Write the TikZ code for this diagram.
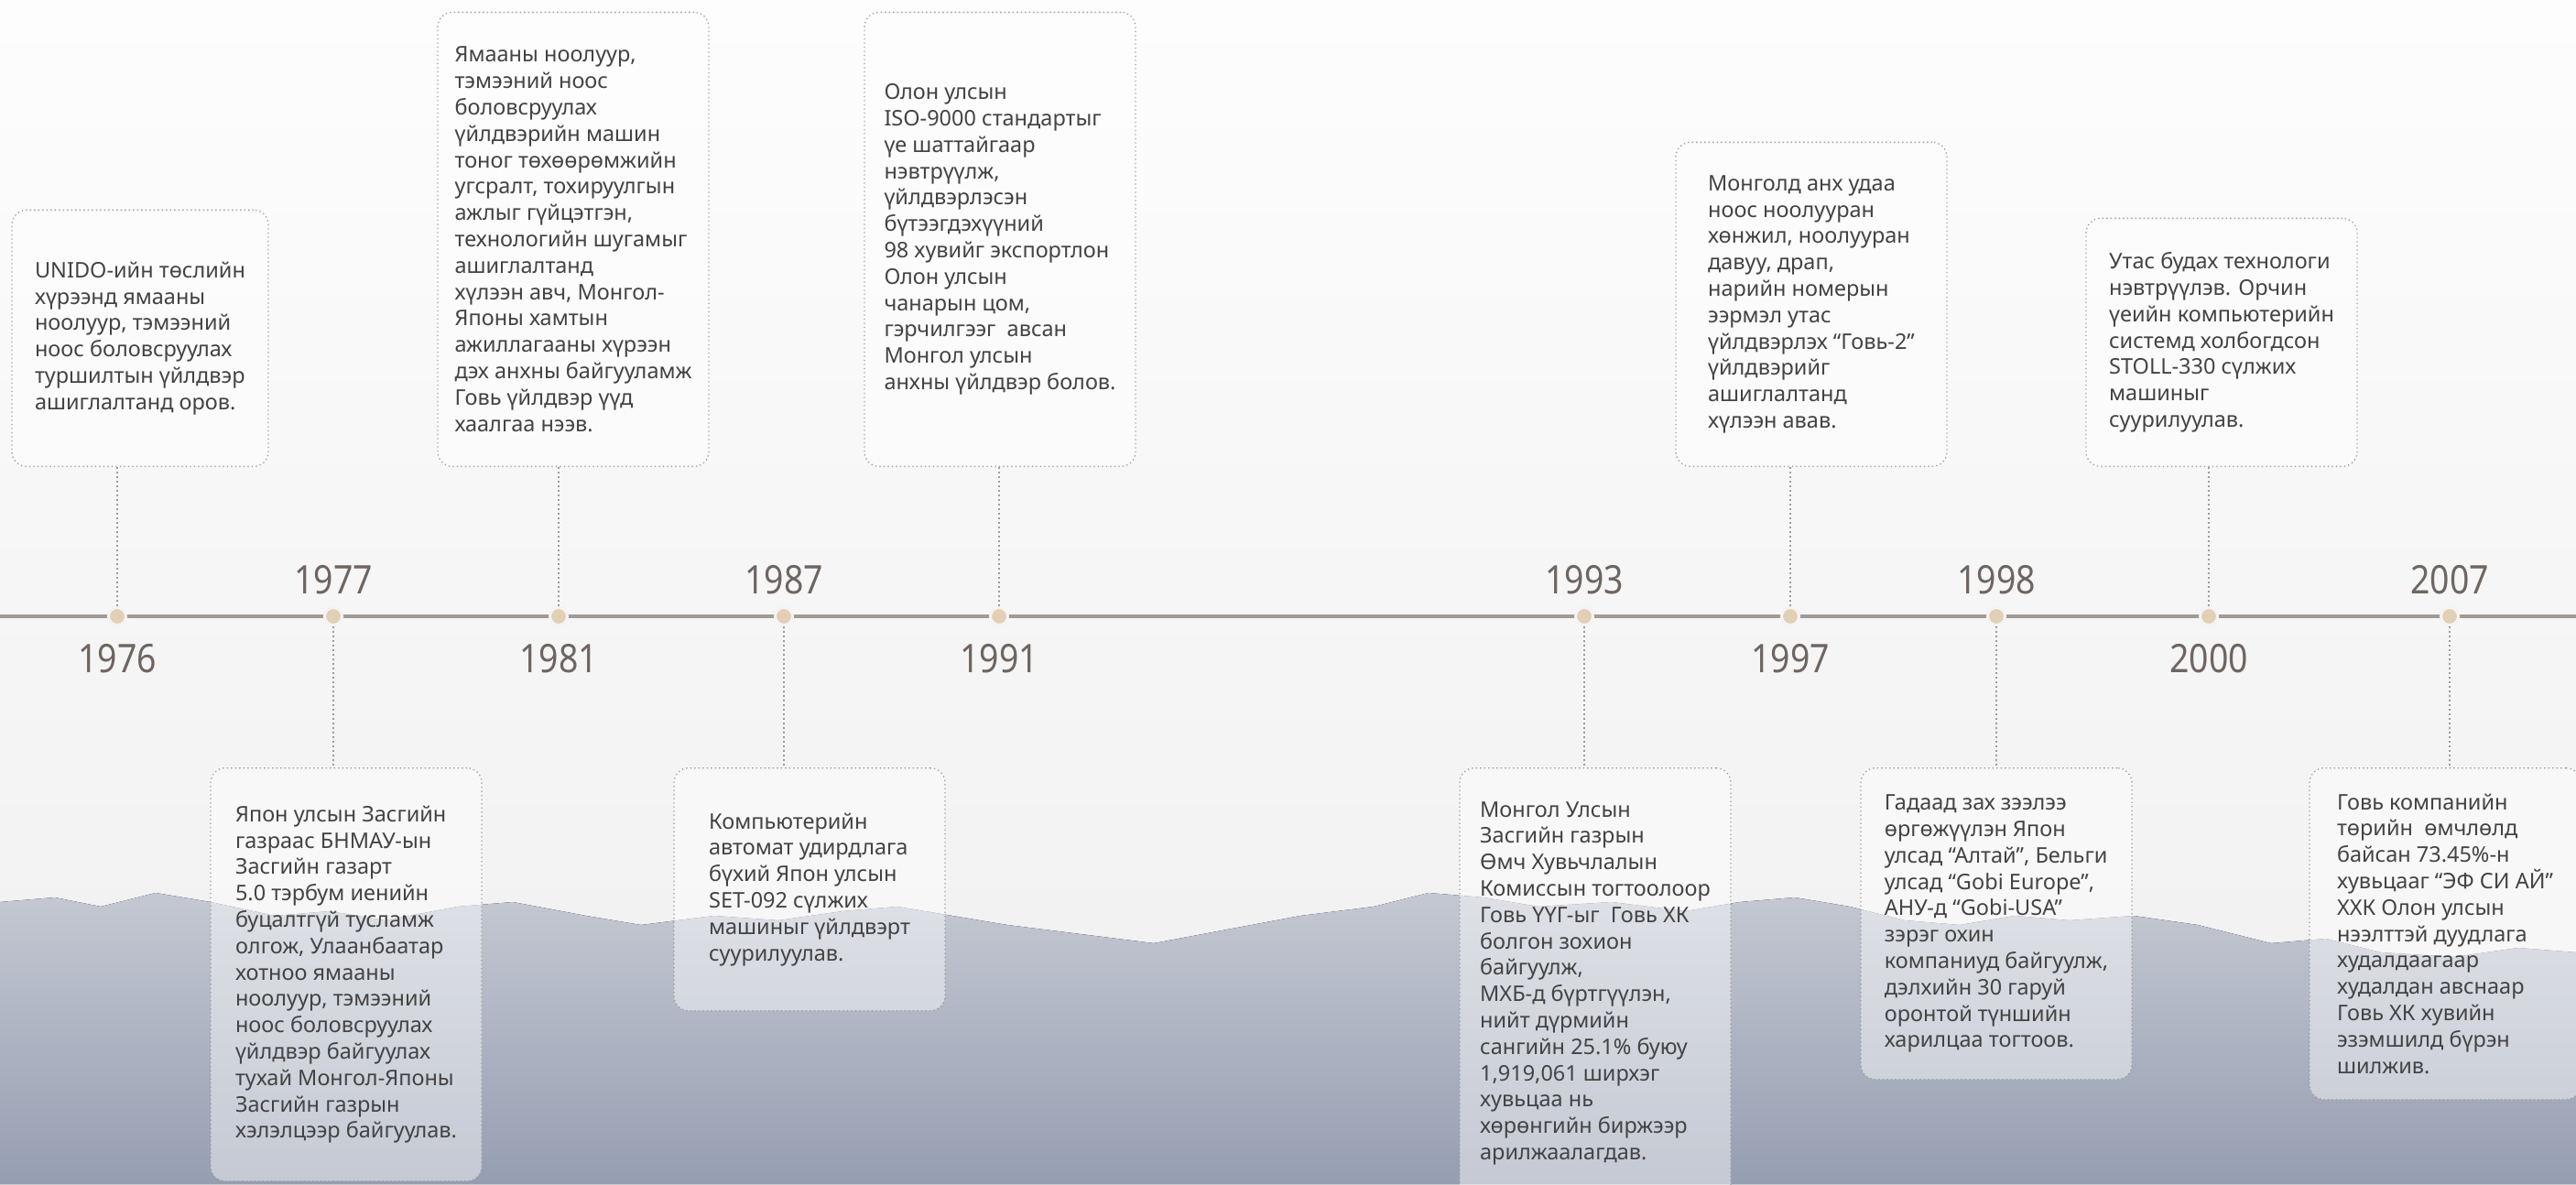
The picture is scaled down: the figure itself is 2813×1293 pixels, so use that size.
\documentclass[tikz,border=0pt]{standalone}
\usepackage{fontspec}
\setmainfont{Noto Sans}
\newfontfamily\yearfont[FakeStretch=0.87]{Noto Sans}
\usepackage{xcolor}
\definecolor{txtgray}{HTML}{434343}
\definecolor{yeargray}{HTML}{6F6560}
\definecolor{linegray}{HTML}{A19A95}
\definecolor{dotbeige}{HTML}{E2CFB6}
\definecolor{skytop}{HTML}{FDFDFD}
\definecolor{skymid}{HTML}{F4F4F4}
\definecolor{skybot}{HTML}{EFEFF0}
\definecolor{mtntop}{HTML}{C4C8D2}
\definecolor{mtnbot}{HTML}{959EB1}
\definecolor{boxline}{HTML}{9C9C9C}

\begin{document}
\begin{tikzpicture}[x=1pt,y=-1pt]
 \tikzstyle{event}=[rectangle, rounded corners=16pt, draw=boxline, line width=1.3pt,
                    dash pattern=on 1.3pt off 3.2pt, fill=white, fill opacity=0.45,
                    text opacity=1, text=txtgray, minimum width=296pt, align=left,
                    inner sep=4pt, font=\fontsize{23.5}{28.8}\selectfont]
 \tikzstyle{year}=[text=yeargray, inner sep=0pt, font=\yearfont\fontsize{43}{43}\selectfont]
 \tikzstyle{tick}=[circle, fill=dotbeige, draw=skymid, line width=3pt,
                   minimum size=19pt, inner sep=0pt]
 \tikzstyle{stem}=[draw=linegray, line width=1.2pt, dash pattern=on 2pt off 3pt]

\useasboundingbox (0,0) rectangle (2813,1293);
\shade[top color=skytop, bottom color=skybot] (0,0) rectangle (2813,1293);

\fill[top color=mtntop, bottom color=mtnbot] (0,985)--(60,980)--(110,990)--(170,975)
   --(230,985)--(300,1000)--(360,995)--(420,1005)--(500,990)--(560,985)--(640,1000)
   --(700,1010)--(780,1000)--(850,1005)--(920,995)--(980,990)--(1040,1000)--(1100,1010)
   --(1180,1020)--(1260,1030)--(1340,1015)--(1420,1000)--(1500,990)--(1560,975)
   --(1620,980)--(1680,990)--(1760,985)--(1840,995)--(1900,985)--(1960,980)--(2020,990)
   --(2080,1005)--(2140,1010)--(2200,1000)--(2260,1005)--(2330,1000)--(2400,1010)
   --(2480,1030)--(2540,1025)--(2600,1040)--(2680,1045)--(2750,1035)--(2813,1040)
   --(2813,1293)--(0,1293)--cycle;

\coordinate (lstart) at (0,673);
\coordinate (lend) at (2813,673);
\draw[linegray, line width=3.5pt] (lstart) -- (lend);

\node[tick] (d1976) at (128,673) {};
\node[tick] (d1977) at (364,673) {};
\node[tick] (d1981) at (610,673) {};
\node[tick] (d1987) at (856,673) {};
\node[tick] (d1991) at (1091,673) {};
\node[tick] (d1993) at (1730,673) {};
\node[tick] (d1997) at (1955,673) {};
\node[tick] (d1998) at (2180,673) {};
\node[tick] (d2000) at (2412,673) {};
\node[tick] (d2007) at (2675,673) {};

\node[year] (y1976) at (128,719) {1976};
\node[year] (y1977) at (364,633) {1977};
\node[year] (y1981) at (610,719) {1981};
\node[year] (y1987) at (856,633) {1987};
\node[year] (y1991) at (1091,719) {1991};
\node[year] (y1993) at (1730,633) {1993};
\node[year] (y1997) at (1955,719) {1997};
\node[year] (y1998) at (2180,633) {1998};
\node[year] (y2000) at (2412,719) {2000};
\node[year] (y2007) at (2675,633) {2007};

\node[event, minimum width=280pt, minimum height=280pt, anchor=south] (b1976) at (153,510)
  {UNIDO-ийн төслийн\\хүрээнд ямааны\\ноолуур, тэмээний\\ноос боловсруулах\\туршилтын үйлдвэр\\ашиглалтанд оров.};
\node[event, minimum height=496pt, anchor=south] (b1981) at (626,510)
  {Ямааны ноолуур,\\тэмээний ноос\\боловсруулах\\үйлдвэрийн машин\\тоног төхөөрөмжийн\\угсралт, тохируулгын\\ажлыг гүйцэтгэн,\\технологийн шугамыг\\ашиглалтанд\\хүлээн авч, Монгол-\\Японы хамтын\\ажиллагааны хүрээн\\дэх анхны байгууламж\\Говь үйлдвэр үүд\\хаалгаа нээв.};
\node[event, minimum height=496pt, anchor=south] (b1991) at (1092,510)
  {Олон улсын\\ISO-9000 стандартыг\\үе шаттайгаар\\нэвтрүүлж,\\үйлдвэрлэсэн\\бүтээгдэхүүний\\98 хувийг экспортлон\\Олон улсын\\чанарын цом,\\гэрчилгээг~ авсан\\Монгол улсын\\анхны үйлдвэр болов.};
\node[event, minimum height=354pt, anchor=south] (b1997) at (1978,510)
  {Монголд анх удаа\\ноос ноолууран\\хөнжил, ноолууран\\давуу, драп,\\нарийн номерын\\ээрмэл утас\\үйлдвэрлэх “Говь-2”\\үйлдвэрийг\\ашиглалтанд\\хүлээн авав.};
\node[event, minimum height=271pt, anchor=south] (b2000) at (2426,510)
  {Утас будах технологи\\нэвтрүүлэв. Орчин\\үеийн компьютерийн\\системд холбогдсон\\STOLL-330 сүлжих\\машиныг\\суурилуулав.};

\node[event, minimum height=451pt, anchor=north] (b1977) at (378,838)
  {Япон улсын Засгийн\\газраас БНМАУ-ын\\Засгийн газарт\\5.0 тэрбум иенийн\\буцалтгүй тусламж\\олгож, Улаанбаатар\\хотноо ямааны\\ноолуур, тэмээний\\ноос боловсруулах\\үйлдвэр байгуулах\\тухай Монгол-Японы\\Засгийн газрын\\хэлэлцээр байгуулав.};
\node[event, minimum height=265pt, anchor=north] (b1987) at (884,838)
  {Компьютерийн\\автомат удирдлага\\бүхий Япон улсын\\SET-092 сүлжих\\машиныг үйлдвэрт\\суурилуулав.};
\node[event, minimum height=470pt, anchor=north] (b1993) at (1742,838)
  {Монгол Улсын\\Засгийн газрын\\Өмч Хувьчлалын\\Комиссын тогтоолоор\\Говь ҮҮГ-ыг~ Говь ХК\\болгон зохион\\байгуулж,\\МХБ-д бүртгүүлэн,\\нийт дүрмийн\\сангийн 25.1\% буюу\\1,919,061 ширхэг\\хувьцаа нь\\хөрөнгийн биржээр\\арилжаалагдав.};
\node[event, minimum height=340pt, anchor=north] (b1998) at (2180,838)
  {Гадаад зах зээлээ\\өргөжүүлэн Япон\\улсад “Алтай”, Бельги\\улсад “Gobi Europe”,\\АНУ-д “Gobi-USA”\\зэрэг охин\\компаниуд байгуулж,\\дэлхийн 30 гаруй\\оронтой түншийн\\харилцаа тогтоов.};
\node[event, minimum height=362pt, anchor=north] (b2007) at (2670,838)
  {Говь компанийн\\төрийн~ өмчлөлд\\байсан 73.45\%-н\\хувьцааг “ЭФ СИ АЙ”\\ХХК Олон улсын\\нээлттэй дуудлага\\худалдаагаар\\худалдан авснаар\\Говь ХК хувийн\\эзэмшилд бүрэн\\шилжив.};

 \path[stem]
    (d1976) edge (d1976 |- b1976.south)
    (d1981) edge (d1981 |- b1981.south)
    (d1991) edge (d1991 |- b1991.south)
    (d1997) edge (d1997 |- b1997.south)
    (d2000) edge (d2000 |- b2000.south)
    (d1977) edge (d1977 |- b1977.north)
    (d1987) edge (d1987 |- b1987.north)
    (d1993) edge (d1993 |- b1993.north)
    (d1998) edge (d1998 |- b1998.north)
    (d2007) edge (d2007 |- b2007.north);

\end{tikzpicture}
\end{document}
